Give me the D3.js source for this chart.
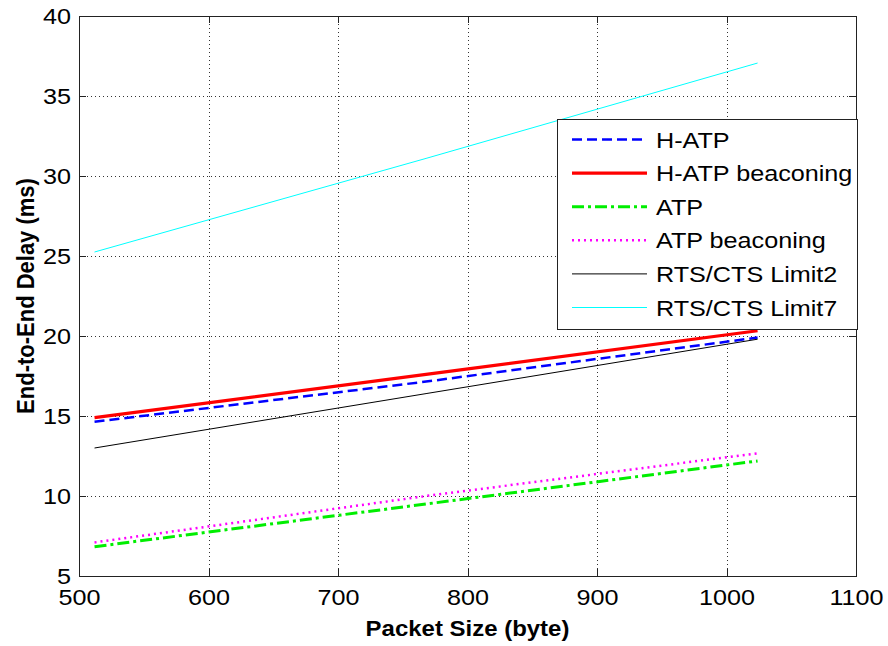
<!DOCTYPE html>
<html>
<head>
<meta charset="utf-8">
<script src="https://cdn.jsdelivr.net/npm/d3@7"></script>
<style>
  body { margin: 0; background: #fff; }
  svg { display: block; font-family: "Liberation Sans", Arial, sans-serif; }
</style>
</head>
<body>
<svg id="chart" width="888" height="646"></svg>
<script>
// packet sizes (byte)
const packetSizes = [512, 768, 1024];

// end-to-end delay (ms) per scheme
const hAtp = [14.64, 17.15, 19.9];
const hAtpBeaconing = [14.9, 17.6, 20.33];
const atp = [6.83, 9.5, 12.19];
const atpBeaconing = [7.1, 10.0, 12.67];
const rtsLimit2 = [13.0, 16.4, 19.8];
const rtsLimit7 = [25.25, 31.1, 37.06];

const xTicks = [500, 600, 700, 800, 900, 1000, 1100];
const yTicks = [5, 10, 15, 20, 25, 30, 35, 40];

const seriesNames = ["H-ATP", "H-ATP beaconing", "ATP", "ATP beaconing", "RTS/CTS Limit2", "RTS/CTS Limit7"];
const seriesValues = [hAtp, hAtpBeaconing, atp, atpBeaconing, rtsLimit2, rtsLimit7];

// Linienstile (MATLAB-artig)
const styles = [
  { color: "#0000ff", width: 2.5, dash: "10,5" },
  { color: "#ff0000", width: 3.2, dash: null },
  { color: "#00ee00", width: 3, dash: "12,4,3,4" },
  { color: "#ff00ff", width: 2.5, dash: "2,4" },
  { color: "#000000", width: 1, dash: null },
  { color: "#00ffff", width: 1, dash: null },
];

const svg = d3.select("#chart");
const plotLeft = 79, plotRight = 856, plotTop = 16, plotBottom = 576;
const textScale = "scale(1.145,1)"; // Bild ist horizontal etwas gestreckt

const x = d3.scaleLinear().domain([500, 1100]).range([plotLeft, plotRight]);
const y = d3.scaleLinear().domain([5, 40]).range([plotBottom, plotTop]);

// Gitterlinien
const grid = svg.append("g").attr("stroke", "#333").attr("stroke-width", 1).attr("stroke-dasharray", "1,3");
grid.selectAll("line.gx").data(xTicks.slice(1, -1)).enter().append("line")
  .attr("x1", d => Math.round(x(d)) + 0.5).attr("x2", d => Math.round(x(d)) + 0.5)
  .attr("y1", plotTop).attr("y2", plotBottom);
grid.selectAll("line.gy").data(yTicks.slice(1, -1)).enter().append("line")
  .attr("y1", d => Math.round(y(d)) + 0.5).attr("y2", d => Math.round(y(d)) + 0.5)
  .attr("x1", plotLeft).attr("x2", plotRight);

// Achsen mit Beschriftung
const xAxis = svg.append("g").attr("transform", `translate(0,${plotBottom})`)
  .call(d3.axisBottom(x).tickValues(xTicks).tickSize(0).tickPadding(12).tickFormat(d3.format("d")));
const yAxis = svg.append("g").attr("transform", `translate(${plotLeft},0)`)
  .call(d3.axisLeft(y).tickValues(yTicks).tickSize(0).tickPadding(7).tickFormat(d3.format("d")));
[xAxis, yAxis].forEach(a => {
  a.select(".domain").remove();
  a.selectAll("text").attr("font-size", 22).attr("fill", "#000")
    .attr("font-family", "'Liberation Sans', Arial, sans-serif").attr("transform", textScale);
});
xAxis.selectAll("text").attr("dy", "0.71em").attr("y", 13);

// Innenliegende Ticks auf allen Seiten
const ticks = svg.append("g").attr("stroke", "#222").attr("stroke-width", 1);
xTicks.forEach(d => {
  const px = Math.round(x(d)) + 0.5;
  ticks.append("line").attr("x1", px).attr("x2", px).attr("y1", plotBottom).attr("y2", plotBottom - 7);
  ticks.append("line").attr("x1", px).attr("x2", px).attr("y1", plotTop).attr("y2", plotTop + 7);
});
yTicks.forEach(d => {
  const py = Math.round(y(d)) + 0.5;
  ticks.append("line").attr("y1", py).attr("y2", py).attr("x1", plotLeft).attr("x2", plotLeft + 7);
  ticks.append("line").attr("y1", py).attr("y2", py).attr("x1", plotRight).attr("x2", plotRight - 7);
});

// Datenlinien
const line = d3.line().x((d, i) => x(packetSizes[i])).y(d => y(d));
seriesValues.forEach((vals, i) => {
  const s = styles[i];
  svg.append("path").datum(vals).attr("d", line)
    .attr("fill", "none").attr("stroke", s.color).attr("stroke-width", s.width)
    .attr("stroke-dasharray", s.dash);
});

// Rahmen
svg.append("rect").attr("x", plotLeft + 0.5).attr("y", plotTop + 0.5)
  .attr("width", plotRight - plotLeft).attr("height", plotBottom - plotTop)
  .attr("fill", "none").attr("stroke", "#222").attr("stroke-width", 1);

// Achsentitel
svg.append("text").attr("transform", `translate(${(plotLeft + plotRight) / 2},636) scale(1.09,1)`)
  .attr("text-anchor", "middle").attr("font-size", 22).attr("font-weight", "bold")
  .text("Packet Size (byte)");
svg.append("text").attr("transform", `translate(34,${(plotTop + plotBottom) / 2}) rotate(-90) scale(1,1.09)`)
  .attr("text-anchor", "middle").attr("font-size", 22).attr("font-weight", "bold")
  .text("End-to-End Delay (ms)");

// Legende
const legend = svg.append("g");
legend.append("rect").attr("x", 557.5).attr("y", 119.5).attr("width", 300).attr("height", 210)
  .attr("fill", "#fff").attr("stroke", "#222").attr("stroke-width", 1);
seriesNames.forEach((name, i) => {
  const ly = 139.5 + i * 33.6;
  const s = styles[i];
  legend.append("line").attr("x1", 572).attr("x2", 647).attr("y1", ly).attr("y2", ly)
    .attr("stroke", s.color).attr("stroke-width", s.width).attr("stroke-dasharray", s.dash);
  legend.append("text").attr("transform", `translate(656,${ly + 8}) ${textScale}`)
    .attr("font-size", 22).text(name);
});
</script>
</body>
</html>
